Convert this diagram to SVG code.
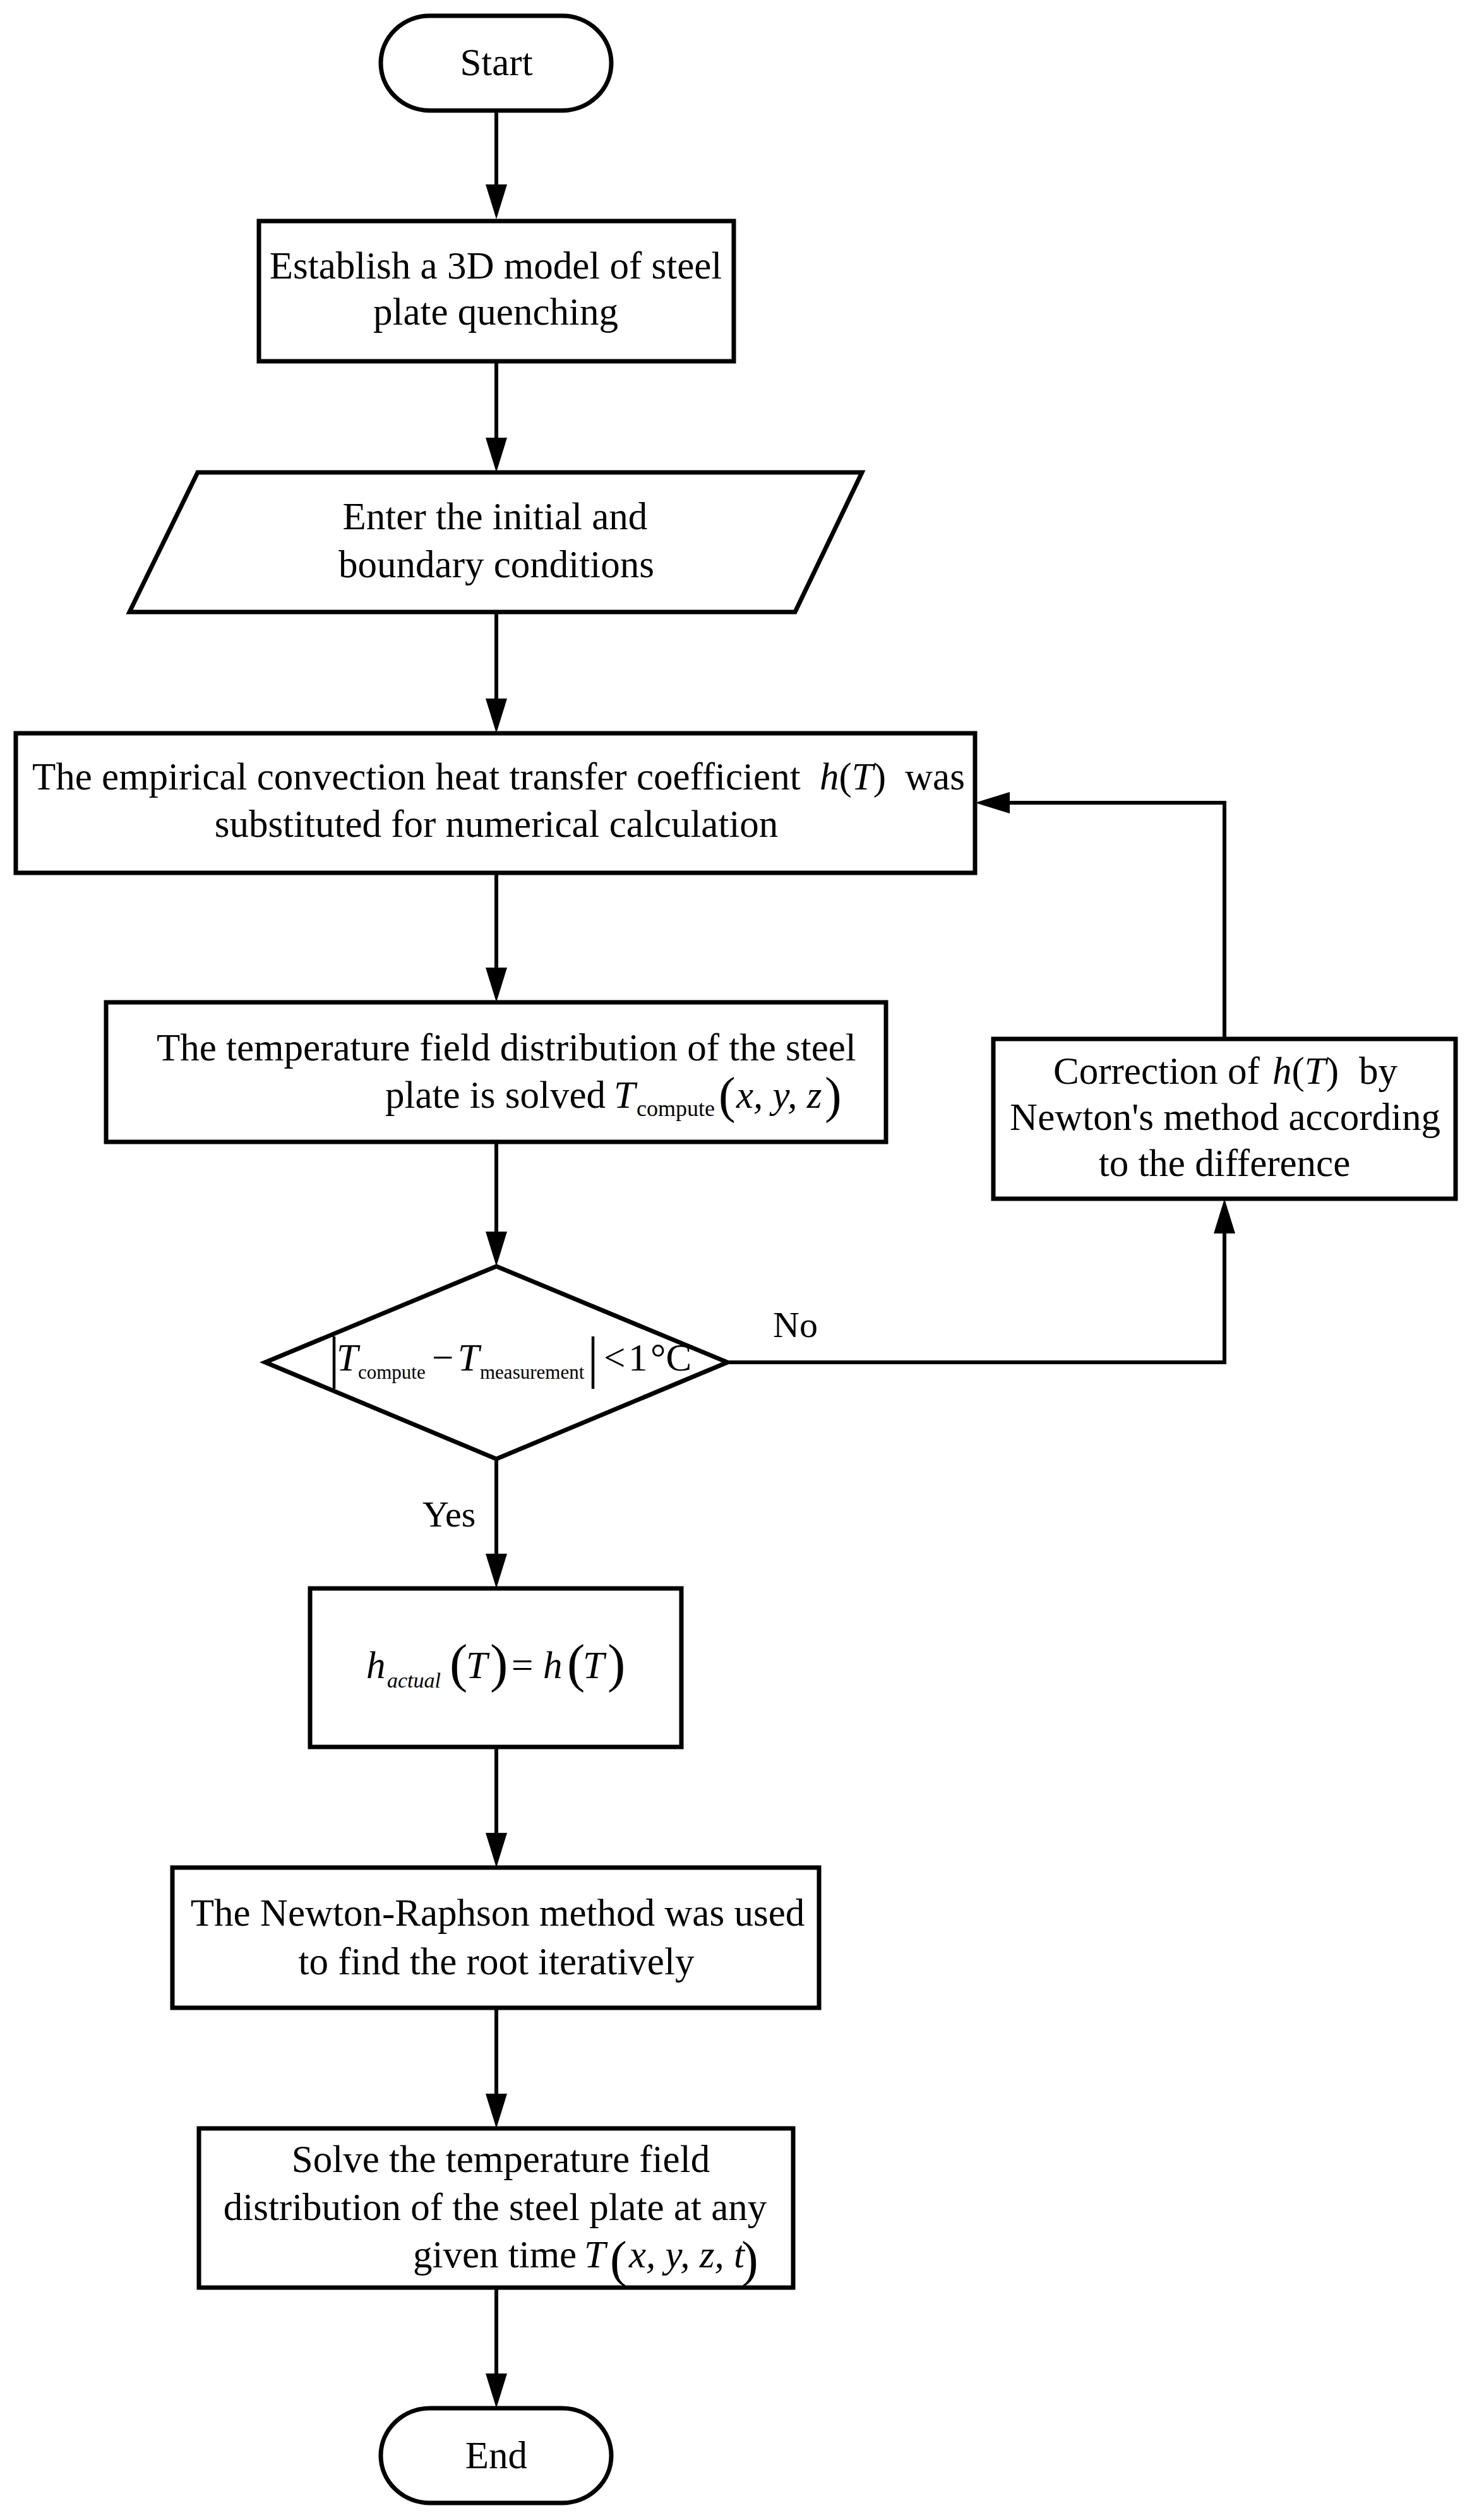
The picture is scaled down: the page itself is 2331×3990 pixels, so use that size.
<svg xmlns="http://www.w3.org/2000/svg" width="2331" height="3990" viewBox="0 0 2331 3990">
<style>
.s{fill:#fff;stroke:#000;stroke-width:7;stroke-linejoin:miter}
.c{fill:none;stroke:#000;stroke-width:6}
.t{font-family:"Liberation Serif","Times New Roman",serif;font-size:61px;fill:#000}
.m{text-anchor:middle}
.i{font-style:italic}
.lb{font-size:58px}
</style>
<defs>
<marker id="arr" viewBox="0 0 55 34" refX="5" refY="17" markerWidth="55" markerHeight="34" markerUnits="userSpaceOnUse" orient="auto">
<path d="M0,0 L55,17 L0,34 z" fill="#000"/>
</marker>
</defs>
<rect width="2331" height="3990" fill="#fff"/>
<g id="connectors">
<path class="c" d="M786,175 V297" marker-end="url(#arr)"/>
<path class="c" d="M786,572 V698" marker-end="url(#arr)"/>
<path class="c" d="M786,969 V1111" marker-end="url(#arr)"/>
<path class="c" d="M786,1382 V1537" marker-end="url(#arr)"/>
<path class="c" d="M786,1808 V1955" marker-end="url(#arr)"/>
<path class="c" d="M786,2310 V2465" marker-end="url(#arr)"/>
<path class="c" d="M786,2766 V2907" marker-end="url(#arr)"/>
<path class="c" d="M786,3179 V3320" marker-end="url(#arr)"/>
<path class="c" d="M786,3622 V3763" marker-end="url(#arr)"/>
<path class="c" d="M1152,2157 H1939 V1948" marker-end="url(#arr)"/>
<path class="c" d="M1939,1645 V1271 H1594" marker-end="url(#arr)"/>
<text class="t lb" x="1224" y="2117">No</text>
<text class="t lb" x="669" y="2417">Yes</text>
</g>
<g id="start">
<rect class="s" x="603" y="25" width="365" height="150" rx="78" ry="75"/>
<text class="t m" x="786" y="119">Start</text>
</g>
<g id="model">
<rect class="s" x="410" y="350" width="752" height="222"/>
<text class="t m" x="785" y="441">Establish a 3D model of steel</text>
<text class="t m" x="785" y="514">plate quenching</text>
</g>
<g id="input">
<polygon class="s" points="313,748 1365,748 1259,969 205,969"/>
<text class="t m" x="784" y="838">Enter the initial and</text>
<text class="t m" x="786" y="914">boundary conditions</text>
</g>
<g id="empirical">
<rect class="s" x="25" y="1161" width="1519" height="221"/>
<text class="t" y="1250"><tspan x="51">The empirical convection heat transfer coefficient</tspan><tspan x="1298" class="i">h</tspan><tspan>(</tspan><tspan class="i">T</tspan><tspan>)</tspan><tspan x="1433">was</tspan></text>
<text class="t m" x="786" y="1325">substituted for numerical calculation</text>
</g>
<g id="solved">
<rect class="s" x="168" y="1587" width="1235" height="221"/>
<text class="t" x="248" y="1679">The temperature field distribution of the steel</text>
<text class="t" y="1754"><tspan x="610">plate is solved</tspan><tspan x="972" class="i">T</tspan><tspan x="1008" y="1767" font-size="36">compute</tspan><tspan x="1138" y="1761" font-size="80">(</tspan><tspan x="1166" y="1754" class="i">x, y, z</tspan><tspan x="1306" y="1761" font-size="80">)</tspan></text>
</g>
<g id="decision">
<polygon class="s" points="786,2005 1152,2157 786,2310 420,2157"/>
<text class="t" y="2170"><tspan x="520" y="2180" font-size="90">|</tspan><tspan x="533" y="2170" class="i">T</tspan><tspan x="567" y="2183" font-size="31">compute</tspan><tspan x="684" y="2170">−</tspan><tspan x="725" class="i">T</tspan><tspan x="760" y="2183" font-size="31">measurement</tspan><tspan x="930" y="2180" font-size="90">|</tspan><tspan x="956" y="2170">&lt;</tspan><tspan x="995">1</tspan><tspan x="1030">°C</tspan></text>
</g>
<g id="correction">
<rect class="s" x="1573" y="1645" width="732" height="253"/>
<text class="t" y="1716"><tspan x="1668">Correction of</tspan><tspan x="2015" class="i">h</tspan><tspan>(</tspan><tspan class="i">T</tspan><tspan>)</tspan><tspan x="2152">by</tspan></text>
<text class="t m" x="1940" y="1789">Newton's method according</text>
<text class="t m" x="1939" y="1862">to the difference</text>
</g>
<g id="actual">
<rect class="s" x="491" y="2515" width="588" height="251"/>
<text class="t" y="2657"><tspan x="580" class="i">h</tspan><tspan x="613" y="2672" font-size="34" class="i">actual</tspan><tspan x="712" y="2662" font-size="85">(</tspan><tspan x="738" y="2657" class="i">T</tspan><tspan x="776" y="2662" font-size="85">)</tspan><tspan x="810" y="2657">=</tspan><tspan x="860" class="i">h</tspan><tspan x="898" y="2662" font-size="85">(</tspan><tspan x="923" y="2657" class="i">T</tspan><tspan x="962" y="2662" font-size="85">)</tspan></text>
</g>
<g id="newton">
<rect class="s" x="273" y="2957" width="1024" height="222"/>
<text class="t m" x="788" y="3049">The Newton-Raphson method was used</text>
<text class="t m" x="786" y="3126">to find the root iteratively</text>
</g>
<g id="solve">
<rect class="s" x="315" y="3370" width="941" height="252"/>
<text class="t m" x="793" y="3439">Solve the temperature field</text>
<text class="t m" x="784" y="3515">distribution of the steel plate at any</text>
<text class="t" y="3590"><tspan x="654">given time</tspan><tspan x="925" class="i">T</tspan><tspan x="966" y="3604" font-size="80">(</tspan><tspan x="996" y="3590" class="i">x, y, z, t</tspan><tspan x="1174" y="3604" font-size="80">)</tspan></text>
</g>
<g id="end">
<rect class="s" x="603" y="3813" width="365" height="150" rx="78" ry="75"/>
<text class="t m" x="786" y="3908">End</text>
</g>
</svg>
